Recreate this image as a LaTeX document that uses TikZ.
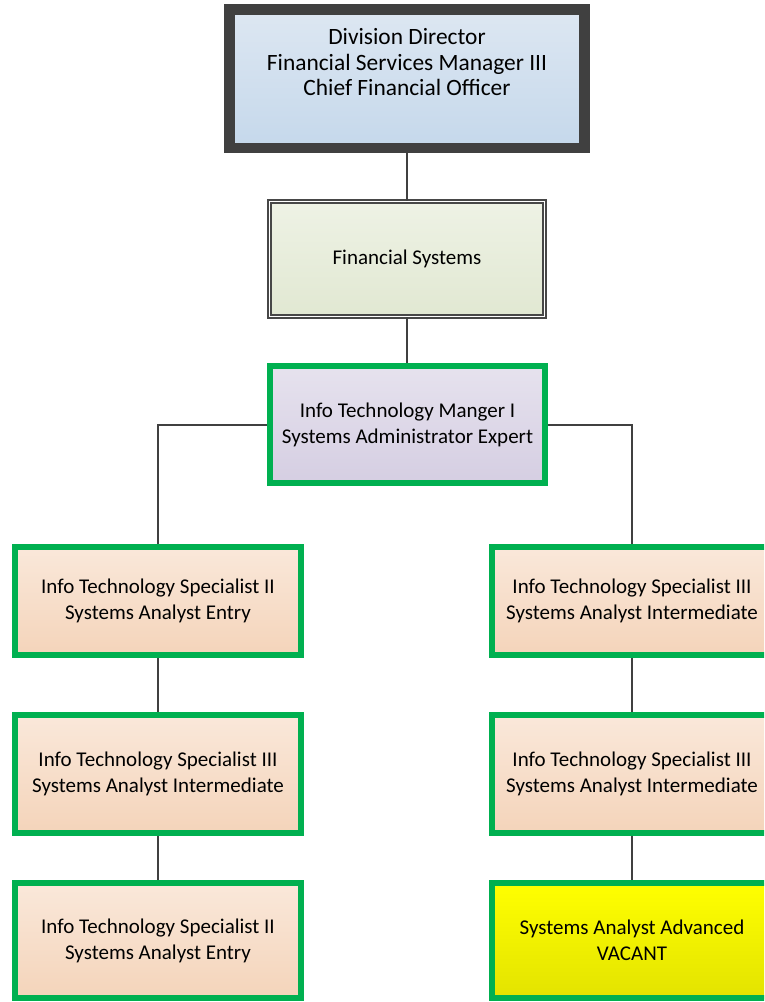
\documentclass[tikz,border=0pt]{standalone}
\usepackage{fontspec}
\setmainfont{Carlito}
\definecolor{gborder}{HTML}{00B050}
\definecolor{dgray}{HTML}{404040}
\definecolor{blueT}{HTML}{DDE7F2}
\definecolor{blueB}{HTML}{C5D8EB}
\definecolor{greenT}{HTML}{EEF2E5}
\definecolor{greenB}{HTML}{E1E8D2}
\definecolor{lavT}{HTML}{E6E2EE}
\definecolor{lavB}{HTML}{D5CEE2}
\definecolor{orT}{HTML}{FAE8DA}
\definecolor{orB}{HTML}{F4D4BA}
\definecolor{yelT}{HTML}{FFFF00}
\definecolor{yelB}{HTML}{E3E300}
\tikzset{
  boxtext/.style={font=\fontsize{21}{26}\selectfont, align=center, text=black},
  toptextstyle/.style={font=\fontsize{23.4}{25.6}\selectfont, align=center, text=black},
  topbox/.style={draw=dgray, line width=10.5pt, top color=blueT, bottom color=blueB, minimum width=355pt, minimum height=138.5pt, inner sep=0pt},
  fsbox/.style={draw=black!72, line width=1.3pt, double=white, double distance=1.6pt, top color=greenT, bottom color=greenB, minimum width=275pt, minimum height=115pt, inner sep=0pt},
  mgrbox/.style={draw=gborder, line width=6pt, top color=lavT, bottom color=lavB, minimum width=275pt, minimum height=117pt, inner sep=0pt},
  orbox/.style={draw=gborder, line width=6pt, top color=orT, bottom color=orB, inner sep=0pt},
  yelbox/.style={draw=gborder, line width=6pt, top color=yelT, bottom color=yelB, inner sep=0pt},
  conn/.style={draw=dgray, line width=2pt}
}
\begin{document}
\begin{tikzpicture}[x=1pt, y=-1pt]
\useasboundingbox (0,0) rectangle (764,1002);
\clip (0,0) rectangle (764,1002);
% boxes
\node[topbox] (top) at (407,78.75) {};
\node[toptextstyle] (toptext) at ([yshift=16.5pt]top.center) {Division Director\\Financial Services Manager III\\Chief Financial Officer};
\node[fsbox, boxtext] (fs) at (407,259) {Financial Systems};
\node[mgrbox, boxtext] (mgr) at (407.5,424.5) {Info Technology Manger I\\Systems Administrator Expert};
% left column
\node[orbox, boxtext, minimum width=286pt, minimum height=108pt] (l1) at (158,601) {Info Technology Specialist II\\Systems Analyst Entry};
\node[orbox, boxtext, minimum width=286pt, minimum height=118pt] (l2) at (158,774) {Info Technology Specialist III\\Systems Analyst Intermediate};
\node[orbox, boxtext, minimum width=286pt, minimum height=115pt] (l3) at (158,940.5) {Info Technology Specialist II\\Systems Analyst Entry};
% right column
\node[orbox, boxtext, minimum width=280pt, minimum height=108pt] (r1) at (632,601) {Info Technology Specialist III\\Systems Analyst Intermediate};
\node[orbox, boxtext, minimum width=280pt, minimum height=118pt] (r2) at (632,774) {Info Technology Specialist III\\Systems Analyst Intermediate};
\node[yelbox, boxtext, minimum width=280pt, minimum height=115pt] (r3) at (632,940.5) {Systems Analyst Advanced\\VACANT};
% connectors
\draw[conn] (top.south) -- (fs.north);
\draw[conn] (fs.south) -- (fs.south |- mgr.north);
\draw[conn] (mgr.west) -| (l1.north);
\draw[conn] (mgr.east) -| (r1.north);
\draw[conn] (l1.south) -- (l2.north);
\draw[conn] (l2.south) -- (l3.north);
\draw[conn] (r1.south) -- (r2.north);
\draw[conn] (r2.south) -- (r3.north);
\end{tikzpicture}
\end{document}
